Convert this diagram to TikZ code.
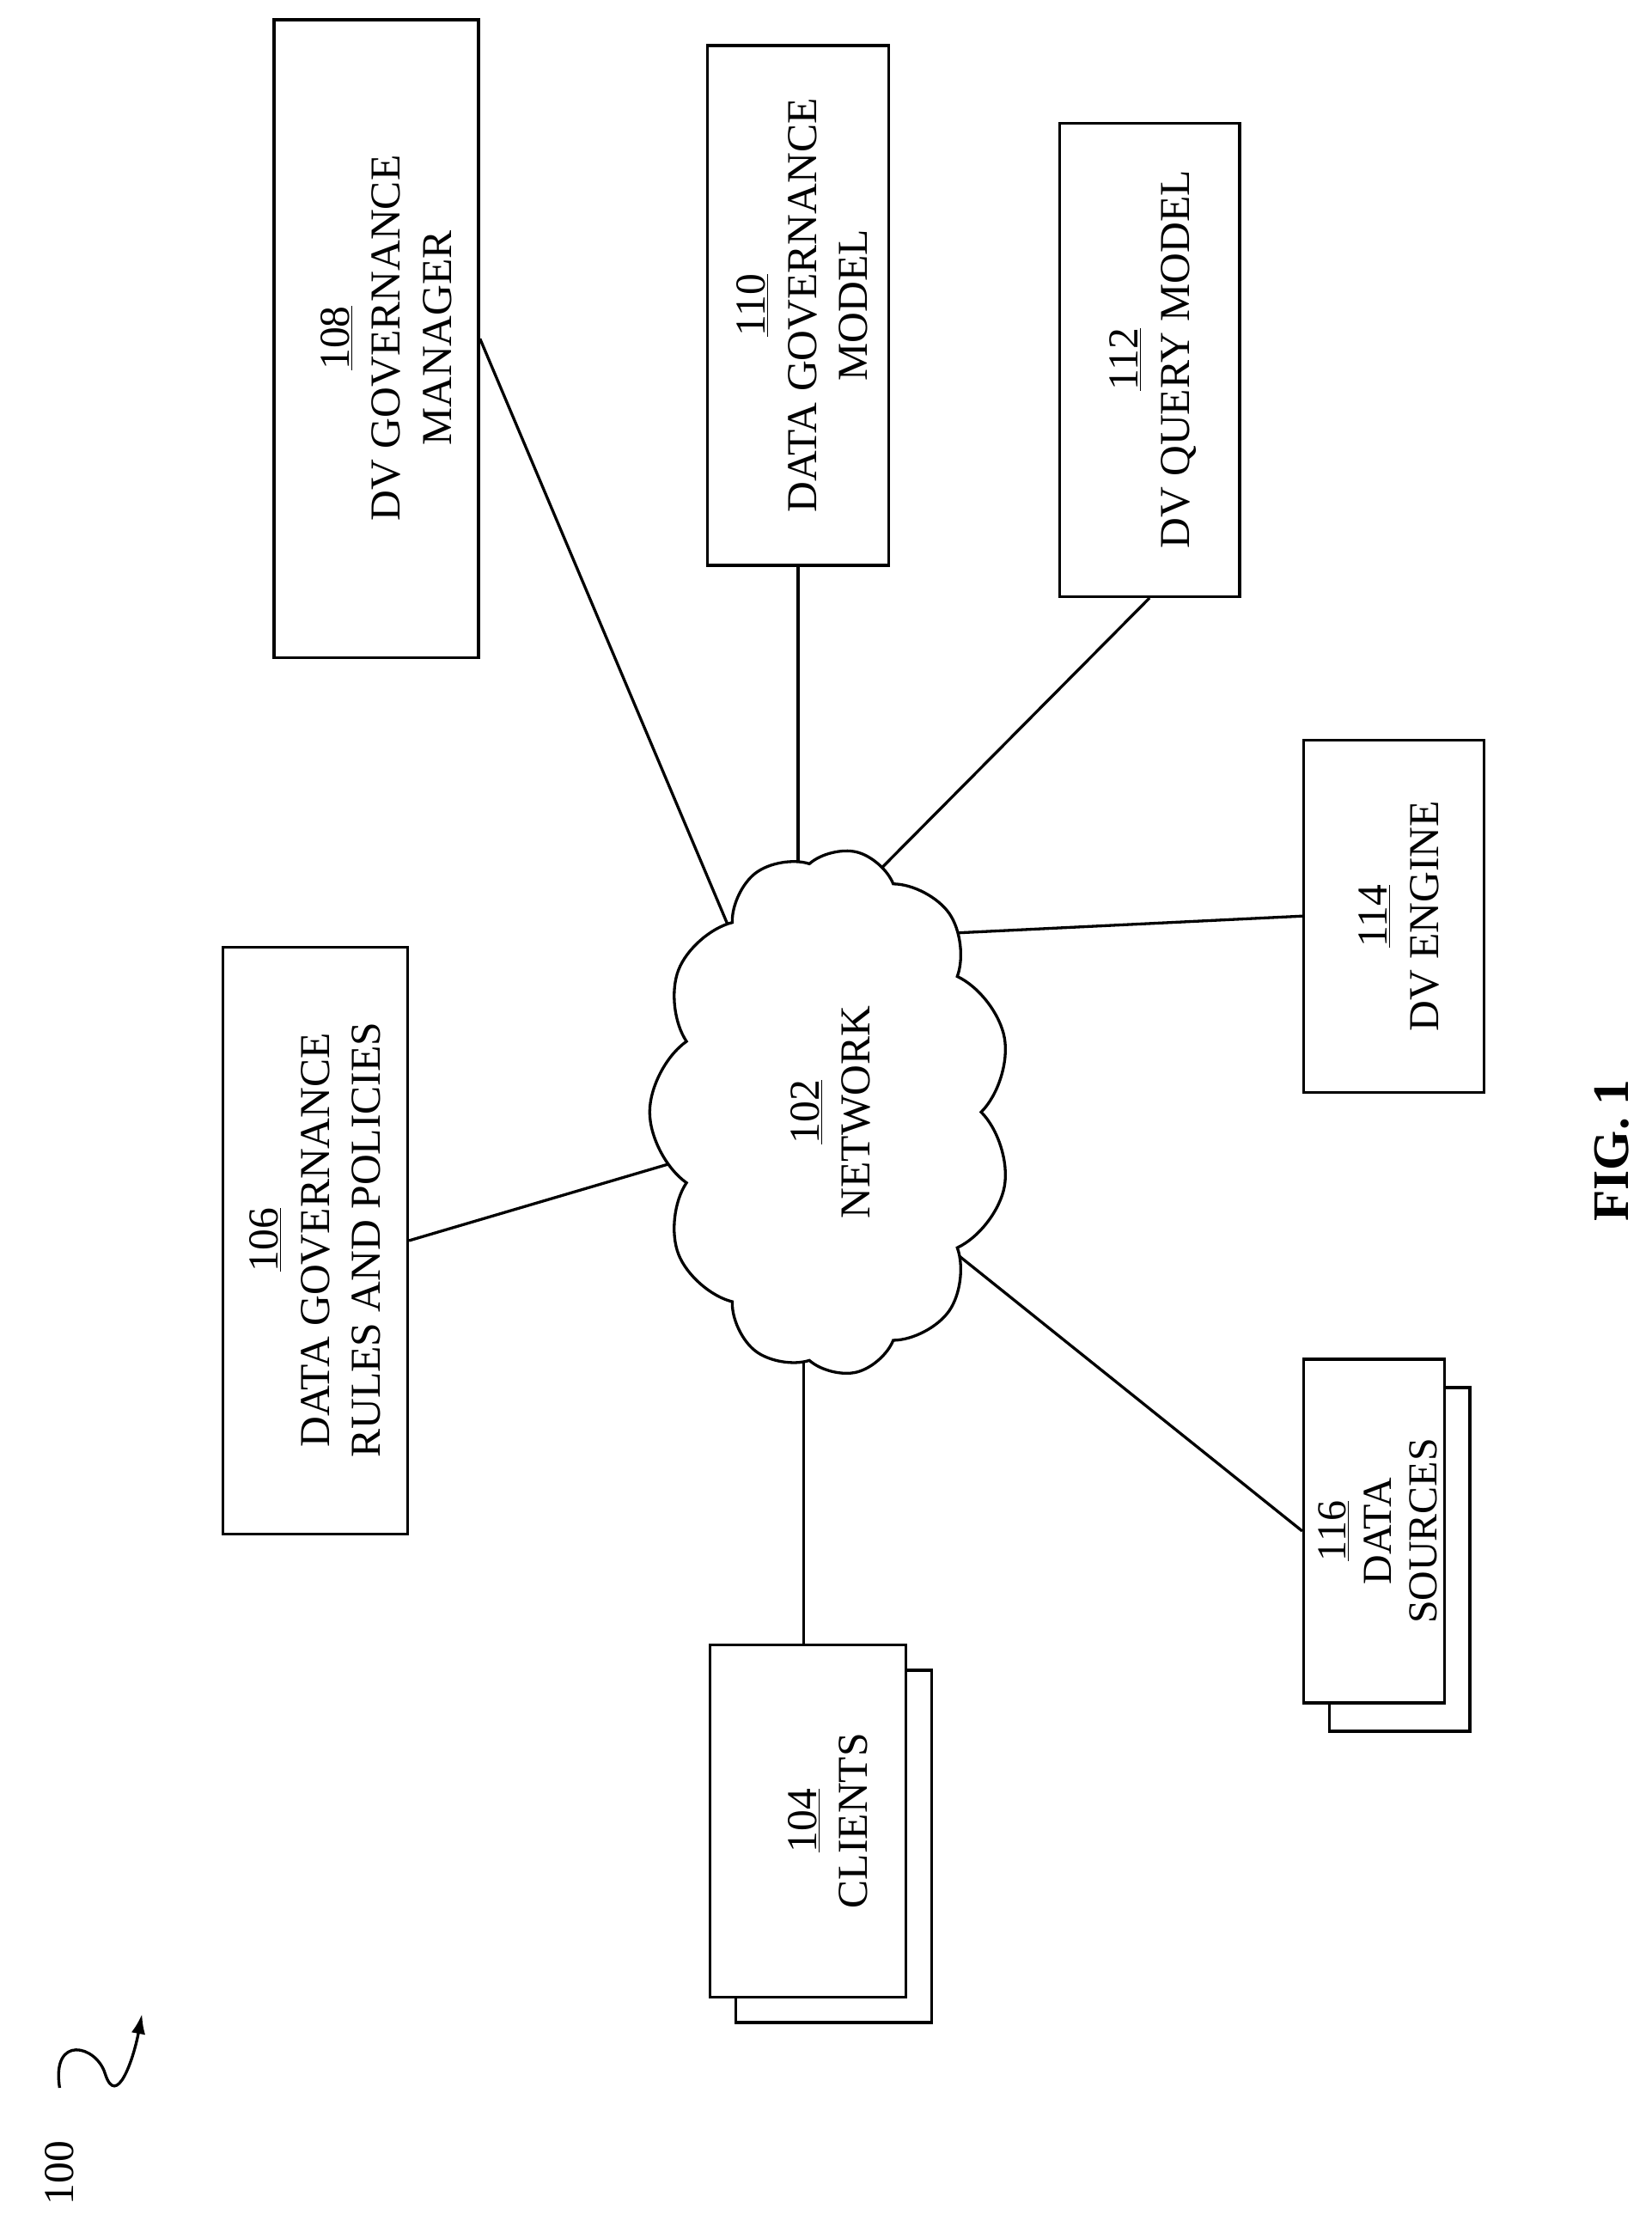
\documentclass[tikz,border=0pt]{standalone}
\usepackage{fontspec}
\setmainfont{Liberation Serif}
\usetikzlibrary{shapes.symbols,arrows.meta}
\begin{document}
\begin{tikzpicture}[x=1pt,y=-1pt,line width=2pt,
 box/.style={draw,fill=white,rectangle,inner sep=0pt},
 lbl/.style={rotate=90,align=center,font=\fontsize{30}{36}\selectfont},
 ln/.style={line width=2pt}]
\useasboundingbox (0,0) rectangle (1163,1568);
\def\bx#1#2#3#4#5{\node[box,minimum width=#4-#2,minimum height=#5-#3] (#1) at ({(#2+#4)/2},{(#3+#5)/2}) {};}
\bx{b108}{193}{14}{337}{463}
\bx{b110}{498}{32}{626}{398}
\bx{b112}{746}{87}{873}{420}
\bx{b114}{918}{521}{1045}{769}
\bx{b106}{157}{667}{287}{1080}
\bx{b104back}{518}{1176}{656}{1424}
\bx{b104}{500}{1158}{638}{1406}
\bx{b116back}{936}{977}{1035}{1219}
\bx{b116}{918}{957}{1017}{1199}
\node[lbl] (t108) at (272,238) {\underline{108}\\DV GOVERNANCE\\MANAGER};
\node[lbl] (t110) at (565,215) {\underline{110}\\DATA GOVERNANCE\\MODEL};
\node[lbl] (t112) at (812,253) {\underline{112}\\DV QUERY MODEL};
\node[lbl] (t114) at (985,645) {\underline{114}\\DV ENGINE};
\node[lbl] (t106) at (222,873) {\underline{106}\\DATA GOVERNANCE\\RULES AND POLICIES};
\node[lbl] (t104) at (583,1282) {\underline{104}\\CLIENTS};
\node[lbl,font=\fontsize{29}{32}\selectfont] (t116) at (970,1078) {\underline{116}\\DATA\\SOURCES};
\coordinate (c108) at (512,650);
\coordinate (c110) at (562,640);
\coordinate (c112) at (612,620);
\coordinate (c114) at (650,658);
\coordinate (c106) at (500,811);
\coordinate (c116) at (670,880);
\coordinate (c104) at (566,930);
\draw[ln] (b108.east) -- (c108);
\draw[ln] (b110.south -| c110) -- (c110);
\draw[ln] (b112.south) -- (c112);
\draw[ln] (b114.west) -- (c114);
\draw[ln] (b106.east) -- (c106);
\draw[ln] (b116.west) -- (c116);
\draw[ln] (b104.north -| c104) -- (c104);
\node[draw,fill=white,cloud,cloud puffs=11,cloud puff arc=110,aspect=1.4,minimum width=370,minimum height=255,rotate=90] (net) at (585,783) {};
\node[lbl] (t102) at (585,783) {\underline{102}\\NETWORK};
\node[rotate=90,font=\bfseries\fontsize{36}{40}\selectfont] (fig) at (1135,810) {FIG. 1};
\node[rotate=90,font=\fontsize{30}{34}\selectfont] (t100) at (42,1530) {100};
\coordinate (sq) at (42,1470);
\coordinate (sqe) at (100,1418);
\draw[ln,-{Latex[length=14pt,width=10pt]}] (sq) .. controls (36,1432) and (68,1440) .. (74,1460) .. controls (82,1485) and (94,1450) .. (sqe);
\end{tikzpicture}
\end{document}
